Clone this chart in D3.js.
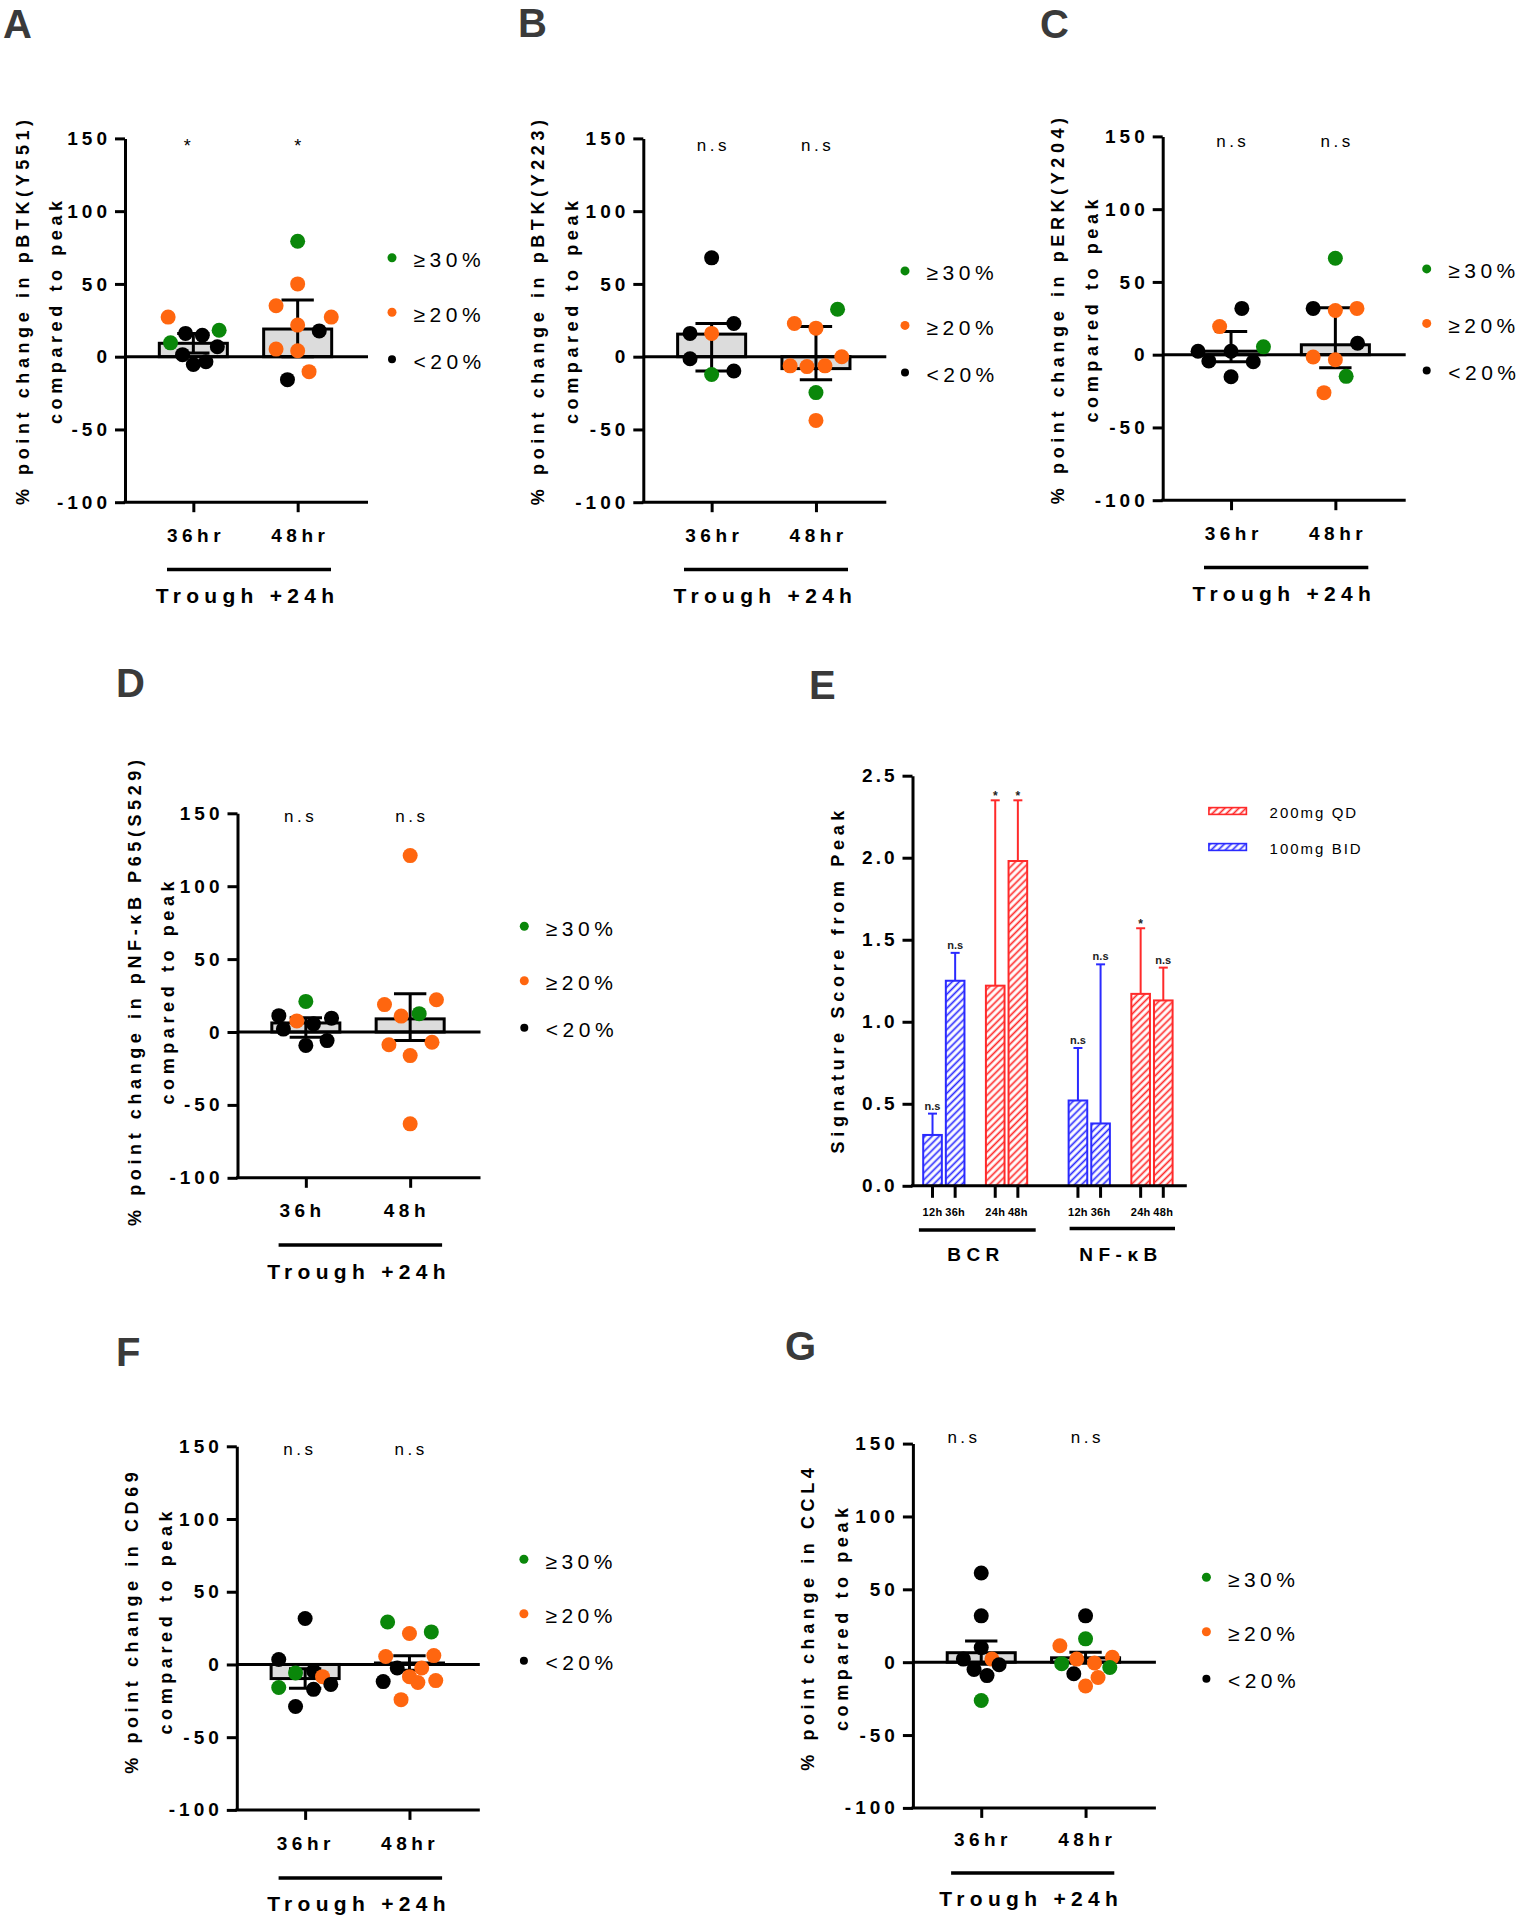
<!DOCTYPE html>
<html><head><meta charset="utf-8">
<script src="https://cdn.jsdelivr.net/npm/d3@7"></script>
<style>body{margin:0;background:#fff}svg{display:block}</style>
</head><body>
<script>
// ---------------- DATA ----------------
const yTickVals = [-100, -50, 0, 50, 100, 150];
const timeCatsHr = ["36hr", "48hr"];
const timeCatsH = ["36h", "48h"];
const legendLabels = ["≥30%", "≥20%", "<20%"];
const legendKeys = ["g", "o", "k"];
const groupLabel = "Trough +24h";

// A: pBTK(Y551)
const btk551_36_val = [27.2, 9.5, 16, 14.7, 18.2, 6.8, 1.4, -5.4, -3.5];
const btk551_36_grp = ["o", "g", "k", "k", "g", "k", "k", "k", "k"];
const btk551_36_jit = [-2.1, -1.9, -0.65, 0.75, 2.15, 2.0, -0.9, 0, 1.05];
const btk551_48_val = [79.3, 50, 35, 27.2, 21.7, 17.7, 5.2, 4.1, -10.3, -15.8];
const btk551_48_grp = ["g", "o", "o", "o", "o", "k", "o", "o", "o", "k"];
const btk551_48_jit = [0, 0, -1.8, 2.8, 0, 1.8, -1.8, 0, 0.95, -0.85];
const btk551_mean = [9.2, 19], btk551_hi = [16, 39], btk551_lo = [2.5, 0];
const btk551_sig = ["*", "*"];

// B: pBTK(Y223)
const btk223_36_val = [67.9, 16, 16, 22.8, -1.4, -12.2, -9.8];
const btk223_36_grp = ["k", "k", "o", "k", "k", "g", "k"];
const btk223_36_jit = [0, -1.8, 0, 1.85, -1.8, 0, 1.85];
const btk223_48_val = [32.6, 22.8, 19.6, 0, -6.3, -6.8, -6.3, -24.7, -43.8];
const btk223_48_grp = ["g", "o", "o", "o", "o", "o", "o", "g", "o"];
const btk223_48_jit = [1.8, -1.8, 0, 2.15, -2.15, -0.75, 0.75, 0, 0];
const btk223_mean = [15.5, -8.2], btk223_hi = [22.8, 20.7], btk223_lo = [-9.8, -15.8];
const btk223_sig = ["n.s", "n.s"];

// C: pERK(Y204)
const erk_36_val = [31.8, 19.3, 5.4, 2.4, 2.4, -4.3, -4.9, -15.2];
const erk_36_grp = ["k", "o", "g", "k", "k", "k", "k", "k"];
const erk_36_jit = [0.9, -0.95, 2.7, -2.75, 0, -1.85, 1.85, 0];
const erk_48_val = [66.3, 31.8, 30.4, 31.8, 7.9, -1.6, -3.5, -14.9, -26.1];
const erk_48_grp = ["g", "k", "o", "o", "k", "o", "o", "g", "o"];
const erk_48_jit = [0, -1.85, 0, 1.8, 1.85, -1.85, 0, 0.9, -0.95];
const erk_mean = [2.4, 6.8], erk_hi = [16, 32.3], erk_lo = [-4.9, -9];
const erk_sig = ["n.s", "n.s"];

// D: pNF-κB P65(S529)
const nfkb_36_val = [21, 11.2, 7.6, 9.5, 5.6, 2, -5.9, -9.2];
const nfkb_36_grp = ["g", "k", "o", "k", "k", "k", "k", "k"];
const nfkb_36_jit = [0, -2.25, -0.75, 2.14, 0.64, -1.87, 1.77, 0];
const nfkb_48_val = [121, 18.8, 22.1, 10.9, 12.6, -8.7, -7, -16.2, -63];
const nfkb_48_grp = ["o", "o", "o", "o", "g", "o", "o", "o", "o"];
const nfkb_48_jit = [0, -2.14, 2.19, -0.75, 0.75, -1.77, 1.82, 0, 0];
const nfkb_mean = [6.2, 9], nfkb_hi = [9.8, 26.3], nfkb_lo = [-3.6, -5.9];
const nfkb_sig = ["n.s", "n.s"];

// F: CD69
const cd69_36_val = [31.6, 3.4, -5.8, -4.5, -8.4, -15.8, -17.1, -13.7, -28.9];
const cd69_36_grp = ["k", "k", "g", "k", "o", "g", "k", "k", "k"];
const cd69_36_jit = [0, -2.2, -0.8, 0.7, 1.45, -2.2, 0.7, 2.14, -0.8];
const cd69_48_val = [29.2, 22.4, 21.3, 5.5, 6.1, -2.4, -2.4, -8.4, -12.4, -11.1, -11.8, -24.2];
const cd69_48_grp = ["g", "g", "o", "o", "o", "k", "o", "o", "o", "o", "k", "o"];
const cd69_48_jit = [-1.82, 1.82, 0, -1.98, 2.03, -1.02, 1.02, 0, 0.7, 2.19, -2.19, -0.7];
const cd69_mean = [-9.7, 1], cd69_hi = [-3, 6], cd69_lo = [-16.3, -4];
const cd69_sig = ["n.s", "n.s"];

// G: CCL4
const ccl4_36_val = [61.2, 31.8, 10, 2.1, 2.1, -5, -1.8, -9.2, -26.3];
const ccl4_36_grp = ["k", "k", "k", "k", "o", "k", "k", "k", "g"];
const ccl4_36_jit = [0, 0, 0, -1.49, 0.89, -0.6, 1.49, 0.48, 0];
const ccl4_48_val = [31.8, 16, 11.3, 2.1, 3.4, -1, -0.5, -3.7, -7.9, -10.5, -16.3];
const ccl4_48_grp = ["k", "g", "o", "o", "o", "g", "o", "g", "k", "o", "o"];
const ccl4_48_jit = [0, 0, -2.14, -0.74, 2.23, -1.99, 0.74, 2.02, -0.98, 1.04, 0];
const ccl4_mean = [6.5, 3], ccl4_hi = [14.5, 6.8], ccl4_lo = [-1.5, -0.8];
const ccl4_sig = ["n.s", "n.s"];

// E: signature scores
const sigGroups = ["BCR", "NF-κB"];
const doseNames = ["100mg BID", "200mg QD"];
const eTimes = ["12h", "36h", "24h", "48h"];
const eDose = ["100mg BID", "100mg BID", "200mg QD", "200mg QD"];
const bcrScore = [0.31, 1.25, 1.22, 1.98];
const bcrErr = [0.44, 1.42, 2.35, 2.35];
const bcrSig = ["n.s", "n.s", "*", "*"];
const nfScore = [0.52, 0.38, 1.17, 1.13];
const nfErr = [0.84, 1.35, 1.57, 1.33];
const nfSig = ["n.s", "n.s", "*", "n.s"];
const eTicks = [0, 0.5, 1, 1.5, 2, 2.5];
const eLegendOrder = ["200mg QD", "100mg BID"];

// ---------------- STYLE / LAYOUT ----------------
const FONT = '"Liberation Sans", Arial, Helvetica, sans-serif';
const COLORS = { g: "#0a870a", o: "#ff660f", k: "#000000" };
const DOSECOL = { "100mg BID": "#2a2aff", "200mg QD": "#ff2a2a" };
const LETTER_COL = "#3a3a3a";
const JIT = 12, DOT_R = 7.5;
const legendGap = [0, 54.5, 101.5];
const hyphenFmt = d => String(d); // plain hyphen-minus like the reference

const svg = d3.select("body").append("svg").attr("width", 1520).attr("height", 1920)
  .style("font-family", FONT);
const defs = svg.append("defs");

function T(g, x, y, str, fs, opts = {}) {
  const t = g.append("text").attr("x", x).attr("y", y).text(str)
    .attr("font-size", fs).attr("font-family", FONT)
    .attr("font-weight", opts.bold ? "bold" : "normal")
    .attr("fill", opts.fill || "#000")
    .attr("text-anchor", opts.anchor || "start");
  if (opts.ls) t.attr("letter-spacing", opts.ls);
  if (opts.dx) t.attr("dx", opts.dx);
  if (opts.db) t.attr("dominant-baseline", opts.db);
  if (opts.rot) t.attr("transform", `rotate(-90,${x},${y})`);
  return t;
}
function L(g, x1, y1, x2, y2, w, col) {
  return g.append("line").attr("x1", x1).attr("y1", y1).attr("x2", x2).attr("y2", y2)
    .attr("stroke", col || "#000").attr("stroke-width", w);
}

function drawScatterPanel(Lo, cats, s36, s48, means, hi, lo, sig, title1, title2) {
  const g = svg.append("g");
  const y = d3.scaleLinear().domain([-100, 150]).range([Lo.yBot, Lo.yTop]);
  const x = d3.scalePoint().domain(cats).range([Lo.axisX, Lo.axisX + 241]).padding(0.655);
  const bw = x.step() * 0.652, cw = x.step() * 0.31;

  cats.forEach((c, i) => {
    g.append("rect").attr("x", x(c) - bw / 2).attr("y", Math.min(y(0), y(means[i])))
      .attr("width", bw).attr("height", Math.max(1, Math.abs(y(0) - y(means[i]))))
      .attr("fill", "#dcdcdc").attr("stroke", "#000").attr("stroke-width", 3);
  });
  L(g, Lo.axisX, y(0), Lo.axisX + 243, y(0), 3);
  cats.forEach((c, i) => {
    const cx = x(c);
    L(g, cx, y(lo[i]), cx, y(hi[i]), 3);
    L(g, cx - cw / 2, y(hi[i]), cx + cw / 2, y(hi[i]), 3);
    L(g, cx - cw / 2, y(lo[i]), cx + cw / 2, y(lo[i]), 3);
  });
  [s36, s48].forEach((s, i) => {
    const cx = x(cats[i]);
    s.val.forEach((v, k) => {
      g.append("circle").attr("cx", cx + s.jit[k] * JIT).attr("cy", y(v))
        .attr("r", DOT_R).attr("fill", COLORS[s.grp[k]]);
    });
  });
  const ya = g.append("g").attr("transform", `translate(${Lo.axisX},0)`)
    .call(d3.axisLeft(y).tickValues(yTickVals).tickFormat(hyphenFmt).tickSize(10).tickSizeOuter(0).tickPadding(4));
  ya.select(".domain").attr("stroke-width", 3);
  ya.selectAll(".tick line").attr("stroke-width", 3);
  ya.selectAll(".tick text").attr("font-size", 19).attr("font-weight", "bold")
    .attr("letter-spacing", 4).attr("font-family", FONT).attr("fill", "#000");
  L(g, Lo.axisX - 1.5, Lo.yBot, Lo.axisX + 243, Lo.yBot, 3);
  const xa = g.append("g").attr("transform", `translate(0,${Lo.yBot})`)
    .call(d3.axisBottom(x).tickSize(10).tickSizeOuter(0));
  xa.select(".domain").remove();
  xa.selectAll(".tick line").attr("stroke-width", 3);
  xa.selectAll(".tick text").attr("y", Lo.labY - Lo.yBot).attr("dy", 0)
    .attr("dx", (d, i) => 2.2 + (Lo.labDx ? Lo.labDx[i] : 0))
    .attr("font-size", 19).attr("font-weight", "bold").attr("letter-spacing", 4.5)
    .attr("font-family", FONT).attr("fill", "#000");
  sig.forEach((s, i) => {
    const star = s === "*";
    const fs = star ? 18 : 17;
    T(g, x(cats[i]) + (Lo.sigDx ? Lo.sigDx[i] : 0), Lo.sigY + (star ? 0.57 : 0.27) * fs, s, fs,
      { anchor: "middle", ls: star ? 0 : 3.5, dx: star ? 0 : 1.75 });
  });
  legendKeys.forEach((k, i) => {
    const ly = Lo.legY + legendGap[i];
    g.append("circle").attr("cx", Lo.legX).attr("cy", ly).attr("r", k === "k" ? 4 : 4.5).attr("fill", COLORS[k]);
    T(g, Lo.legX + 21.5, ly + 2, legendLabels[i], 21, { ls: 4.5, db: "central" });
  });
  T(g, Lo.t1x, Lo.ty, title1, 18, { bold: true, ls: 4.6, anchor: "middle", db: "central", rot: true, dx: 2.3 });
  T(g, Lo.t2x, Lo.ty, title2, 18, { bold: true, ls: 4.6, anchor: "middle", db: "central", rot: true, dx: 2.3 });
  L(g, Lo.brX0, Lo.brY, Lo.brX1, Lo.brY, 3.5);
  T(g, Lo.trX, Lo.trY, groupLabel, 21, { bold: true, ls: 5.3, anchor: "middle", dx: 2.6 });
  T(g, Lo.lx, Lo.ly, Lo.letter, 40, { bold: true, fill: LETTER_COL });
}

const layA = { letter: "A", lx: 3, ly: 38, axisX: 125, yTop: 138.4, yBot: 502.2, legX: 392, legY: 257.8, sigY: 142, labY: 541.7, brY: 569.4, brX0: 167, brX1: 331, trX: 245, trY: 603, t1x: 23.3, t2x: 55.7, ty: 312.5, sigDx: [-6, 0] };
const layB = { letter: "B", lx: 518, ly: 37, axisX: 643.3, yTop: 138.4, yBot: 502.2, legX: 905, legY: 270.9, sigY: 146.3, labY: 541.7, brY: 569.4, brX0: 684, brX1: 848, trX: 762.8, trY: 603, t1x: 538.3, t2x: 571.7, ty: 312.5 };
const layC = { letter: "C", lx: 1040, ly: 37.5, axisX: 1162.7, yTop: 136.4, yBot: 500.2, legX: 1426.7, legY: 268.9, sigY: 142.3, labY: 539.7, brY: 567.4, brX0: 1204, brX1: 1368.3, trX: 1281.7, trY: 601, t1x: 1058.3, t2x: 1091.7, ty: 311 };
const layD = { letter: "D", lx: 116, ly: 697, axisX: 237.5, yTop: 813.3, yBot: 1177.8, legX: 524.3, legY: 926.3, sigY: 817.3, labY: 1217.3, brY: 1245.1, brX0: 278.6, brX1: 442.1, trX: 356.4, trY: 1278.6, t1x: 134.6, t2x: 167.9, ty: 993, sigDx: [-7, 0], labDx: [-6, -6] };
const layF = { letter: "F", lx: 116, ly: 1366, axisX: 236.8, yTop: 1446.3, yBot: 1809.9, legX: 523.9, legY: 1559.2, sigY: 1450.1, labY: 1850, brY: 1878, brX0: 278.6, brX1: 442.1, trX: 356.4, trY: 1911.3, t1x: 132.1, t2x: 166.1, ty: 1623, sigDx: [-7, 0], labDx: [-2, -2] };
const layG = { letter: "G", lx: 785, ly: 1360, axisX: 912.9, yTop: 1443.6, yBot: 1807.9, legX: 1206.4, legY: 1577.2, sigY: 1438.6, labY: 1846.2, brY: 1873, brX0: 951.1, brX1: 1114.3, trX: 1028.6, trY: 1905.5, t1x: 808.2, t2x: 842.1, ty: 1619.5, sigDx: [-19, 0], labDx: [-1, -1] };

const S = (val, grp, jit) => ({ val, grp, jit });
drawScatterPanel(layA, timeCatsHr, S(btk551_36_val, btk551_36_grp, btk551_36_jit), S(btk551_48_val, btk551_48_grp, btk551_48_jit),
  btk551_mean, btk551_hi, btk551_lo, btk551_sig, "% point change in pBTK(Y551)", "compared to peak");
drawScatterPanel(layB, timeCatsHr, S(btk223_36_val, btk223_36_grp, btk223_36_jit), S(btk223_48_val, btk223_48_grp, btk223_48_jit),
  btk223_mean, btk223_hi, btk223_lo, btk223_sig, "% point change in pBTK(Y223)", "compared to peak");
drawScatterPanel(layC, timeCatsHr, S(erk_36_val, erk_36_grp, erk_36_jit), S(erk_48_val, erk_48_grp, erk_48_jit),
  erk_mean, erk_hi, erk_lo, erk_sig, "% point change in pERK(Y204)", "compared to peak");
drawScatterPanel(layD, timeCatsH, S(nfkb_36_val, nfkb_36_grp, nfkb_36_jit), S(nfkb_48_val, nfkb_48_grp, nfkb_48_jit),
  nfkb_mean, nfkb_hi, nfkb_lo, nfkb_sig, "% point change in pNF-κB P65(S529)", "compared to peak");
drawScatterPanel(layF, timeCatsHr, S(cd69_36_val, cd69_36_grp, cd69_36_jit), S(cd69_48_val, cd69_48_grp, cd69_48_jit),
  cd69_mean, cd69_hi, cd69_lo, cd69_sig, "% point change in CD69", "compared to peak");
drawScatterPanel(layG, timeCatsHr, S(ccl4_36_val, ccl4_36_grp, ccl4_36_jit), S(ccl4_48_val, ccl4_48_grp, ccl4_48_jit),
  ccl4_mean, ccl4_hi, ccl4_lo, ccl4_sig, "% point change in CCL4", "compared to peak");

// ---------------- PANEL E ----------------
(function () {
  const g = svg.append("g");
  doseNames.forEach((d, i) => {
    const p = defs.append("pattern").attr("id", "hatch" + i).attr("patternUnits", "userSpaceOnUse")
      .attr("width", 5).attr("height", 5).attr("patternTransform", "rotate(45)");
    p.append("rect").attr("width", 5).attr("height", 5).attr("fill", "#fff");
    p.append("line").attr("x1", 2.5).attr("y1", 0).attr("x2", 2.5).attr("y2", 5)
      .attr("stroke", DOSECOL[d]).attr("stroke-width", 1.7);
  });
  const hatch = d => "url(#hatch" + doseNames.indexOf(d) + ")";
  const y = d3.scaleLinear().domain([0, 2.5]).range([1185.8, 775.7]);
  const xGroup = d3.scaleBand().domain(sigGroups).range([923.2, 1172.6]).paddingInner(0.285).paddingOuter(0);
  const xDose = d3.scaleBand().domain(doseNames).range([0, xGroup.bandwidth()]).paddingInner(0.342);
  const xSlot = d3.scaleBand().domain([0, 1]).range([0, xDose.bandwidth()]).paddingInner(0.177);
  const bw = xSlot.bandwidth();
  const groupVals = [bcrScore, nfScore], groupErr = [bcrErr, nfErr], groupSig = [bcrSig, nfSig];

  const centers = [];
  sigGroups.forEach((grp, gi) => {
    eTimes.forEach((t, i) => {
      const dose = eDose[i];
      const x0 = xGroup(grp) + xDose(dose) + xSlot(i % 2);
      const cx = x0 + bw / 2;
      const v = groupVals[gi][i], e = groupErr[gi][i], col = DOSECOL[dose];
      centers.push({ cx, t });
      L(g, cx, y(v), cx, y(e), 2, col);
      L(g, cx - 4.5, y(e), cx + 4.5, y(e), 2, col);
      g.append("rect").attr("x", x0).attr("y", y(v)).attr("width", bw).attr("height", y(0) - y(v))
        .attr("fill", hatch(dose)).attr("stroke", col).attr("stroke-width", 2);
      const s = groupSig[gi][i];
      if (s === "*") T(g, cx, y(e) - 0.5, s, 12, { anchor: "middle", bold: true, fill: "#222" });
      else T(g, cx, y(e) - 4, s, 11, { anchor: "middle", bold: true, fill: "#222" });
    });
  });
  const ya = g.append("g").attr("transform", "translate(912.5,0)")
    .call(d3.axisLeft(y).tickValues(eTicks).tickFormat(d3.format(".1f")).tickSize(10).tickSizeOuter(0).tickPadding(5));
  ya.select(".domain").attr("stroke-width", 3);
  ya.selectAll(".tick line").attr("stroke-width", 3);
  ya.selectAll(".tick text").attr("font-size", 19).attr("font-weight", "bold").attr("letter-spacing", 3)
    .attr("font-family", FONT).attr("fill", "#000");
  L(g, 911, y(0), 1186.8, y(0), 3);
  centers.forEach(c => {
    L(g, c.cx, y(0), c.cx, y(0) + 12, 3);
    T(g, c.cx, 1216, c.t, 11, { anchor: "middle", bold: true, ls: 0.3 });
  });
  const brk = [[918.9, 1035.7, 1230], [1069.6, 1175, 1228.5]];
  sigGroups.forEach((grp, gi) => {
    L(g, brk[gi][0], brk[gi][2], brk[gi][1], brk[gi][2], 3.5);
    T(g, (brk[gi][0] + brk[gi][1]) / 2 - 4, 1261, grp, 19, { anchor: "middle", bold: true, ls: 5.5, dx: 2.7 });
  });
  eLegendOrder.forEach((d, i) => {
    const ly = 811 + i * 36;
    g.append("rect").attr("x", 1208.9).attr("y", ly - 3.4).attr("width", 37.5).attr("height", 6.8)
      .attr("fill", hatch(d)).attr("stroke", DOSECOL[d]).attr("stroke-width", 1.6);
    T(g, 1269.6, ly + 6.5, d, 15, { ls: 2 });
  });
  T(g, 837.5, 982, "Signature Score from Peak", 18, { bold: true, ls: 4.7, anchor: "middle", db: "central", rot: true, dx: 2.3 });
  T(g, 809, 699.4, "E", 40, { bold: true, fill: LETTER_COL });
})();
</script>
</body></html>
